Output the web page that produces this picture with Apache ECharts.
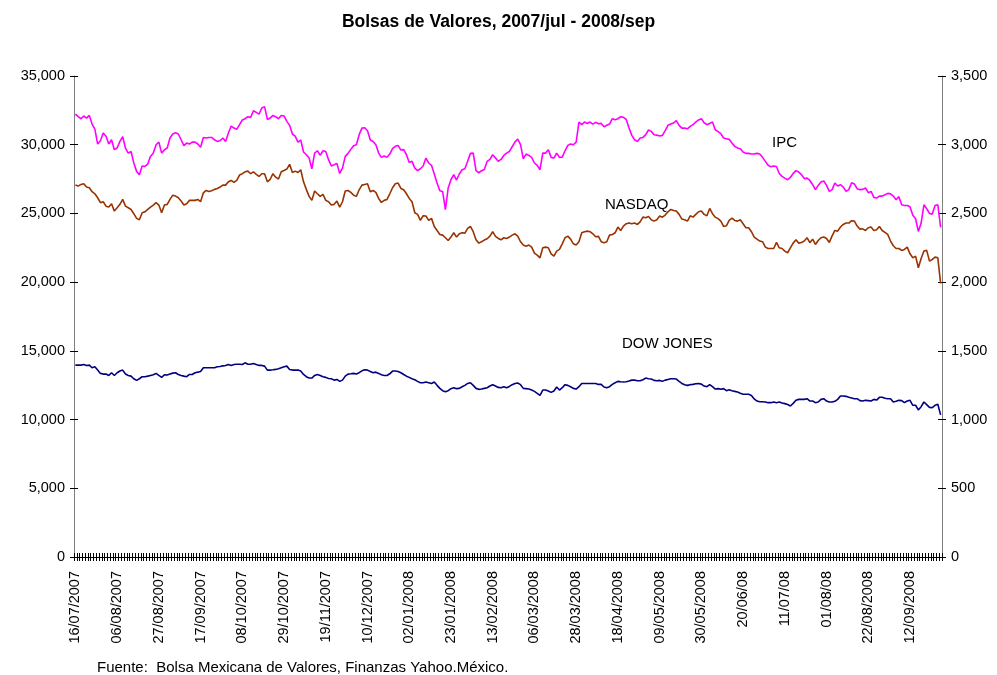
<!DOCTYPE html>
<html>
<head>
<meta charset="utf-8">
<title>Bolsas de Valores</title>
<script src="https://cdn.jsdelivr.net/npm/echarts@6/dist/echarts.min.js"></script>
<style>
  html, body { margin: 0; padding: 0; background: #fff; }
  #chart { width: 997px; height: 675px; }
</style>
</head>
<body>
<div id="chart"></div>
<script>
// dias de operacion: lunes a viernes desde 16/07/2007, sin estos feriados
var firstDay = [2007, 6, 16];
var holidays = ['25/12/2007', '01/01/2008', '18/02/2008', '21/03/2008'];

// etiquetas del eje X (una cada 15 dias de operacion)
var tickLabels = [
    '16/07/2007', '06/08/2007', '27/08/2007', '17/09/2007', '08/10/2007', '29/10/2007',
    '19/11/2007', '10/12/2007', '02/01/2008', '23/01/2008', '13/02/2008', '06/03/2008',
    '28/03/2008', '18/04/2008', '09/05/2008', '30/05/2008', '20/06/08', '11/07/08',
    '01/08/08', '22/08/2008', '12/09/2008'
];

// IPC (eje izquierdo)
var ipc = [
    32230, 32040, 31890, 32090, 31940, 32130, 31500, 31140, 30050, 30290,
    30850, 30610, 30050, 30360, 29640, 29760, 30240, 30580, 29760, 29390,
    29510, 28670, 28060, 27820, 28450, 28420, 28590, 29150, 29390, 30000,
    30190, 29390, 29640, 29760, 30490, 30780, 30870, 30780, 30360, 29930,
    30120, 30050, 30190, 30190, 30050, 29810, 30530, 30490, 30530, 30530,
    30360, 30240, 30290, 30490, 30240, 30850, 31360, 31210, 31120, 31460,
    31800, 31890, 32040, 31990, 32470, 32350, 32230, 32670, 32770, 31840,
    31940, 32130, 32040, 31890, 32130, 32090, 31700, 31410, 30780, 30630,
    30190, 30340, 29470, 29270, 29030, 28250, 29390, 29560, 29220, 29560,
    29510, 28910, 28450, 28540, 28640, 27910, 28300, 29150, 29370, 29660,
    29930, 30000, 30730, 31210, 31240, 31020, 30340, 30240, 30000, 29390,
    29080, 29180, 29080, 29320, 29710, 29880, 29950, 29610, 29640, 29270,
    28710, 28790, 28300, 28110, 28250, 28450, 29030, 28670, 28500, 27870,
    27210, 26650, 26600, 25270, 26850, 27450, 27820, 27430, 27870, 28180,
    28250, 28790, 29370, 29390, 28110, 27960, 28110, 28200, 28790, 28930,
    29270, 29030, 28790, 28930, 29220, 29390, 29510, 29850, 30190, 30410,
    30000, 28980, 29320, 29220, 29080, 28670, 28500, 28180, 29390, 29390,
    29640, 29080, 29030, 29390, 29080, 29100, 29560, 29950, 30050, 30000,
    30190, 31650, 31460, 31650, 31550, 31650, 31500, 31630, 31530, 31550,
    31310, 31410, 31500, 31890, 31820, 31890, 32040, 31990, 31840, 31210,
    30680, 30360, 30240, 30490, 30530, 30730, 31070, 30970, 30730, 30700,
    30630, 30680, 31020, 31410, 31500, 31580, 31750, 31410, 31210, 31210,
    31160, 31330, 31460, 31650, 31800, 31890, 31600, 31460, 31550, 31650,
    31090, 30950, 30800, 30490, 30440, 30390, 30120, 29880, 29760, 29710,
    29470, 29370, 29370, 29320, 29320, 29370, 29320, 29080, 28790, 28500,
    28400, 28450, 28420, 27910, 27700, 27570, 27450, 27620, 27910, 28110,
    28010, 27820, 27530, 27570, 27400, 27090, 26730, 27040, 27280, 27360,
    27040, 26600, 26730, 27210, 26990, 27090, 26920, 26600, 26730, 27230,
    27140, 26800, 26730, 26750, 26850, 26510, 26600, 26170, 26120, 26260,
    26260, 26360, 26460, 26430, 26260, 26000, 26220, 25630, 25580, 25580,
    25490, 24860, 24610, 23690, 24300, 25630, 25340, 25000, 24950, 25580,
    25630, 23980
];

// NASDAQ (eje derecho)
var nasdaq = [
    2706, 2699, 2711, 2716, 2692, 2687, 2658, 2643, 2614, 2578,
    2585, 2553, 2546, 2570, 2517, 2541, 2566, 2602, 2553, 2541,
    2529, 2498, 2464, 2454, 2505, 2512, 2529, 2546, 2561, 2578,
    2561, 2505, 2561, 2566, 2602, 2633, 2626, 2614, 2590, 2561,
    2570, 2595, 2595, 2595, 2602, 2585, 2650, 2667, 2660, 2665,
    2675, 2682, 2692, 2706, 2706, 2730, 2740, 2726, 2740, 2779,
    2789, 2803, 2808, 2789, 2803, 2784, 2769, 2789, 2789, 2730,
    2747, 2789, 2764, 2750, 2803, 2813, 2823, 2857, 2798, 2808,
    2798, 2818, 2730, 2675, 2624, 2595, 2663, 2643, 2624, 2638,
    2595, 2585, 2561, 2566, 2590, 2546, 2585, 2663, 2667, 2653,
    2633, 2624, 2672, 2706, 2711, 2716, 2658, 2667, 2653, 2609,
    2580, 2595, 2602, 2643, 2687, 2716, 2721, 2682, 2672, 2643,
    2609, 2585, 2505, 2493, 2449, 2483, 2481, 2449, 2464, 2405,
    2376, 2347, 2342, 2323, 2303, 2328, 2359, 2328, 2352, 2359,
    2357, 2391, 2405, 2367, 2308, 2284, 2294, 2306, 2316, 2335,
    2367, 2333, 2318, 2308, 2323, 2318, 2328, 2342, 2352, 2335,
    2294, 2270, 2262, 2270, 2255, 2211, 2197, 2177, 2250, 2255,
    2250, 2206, 2189, 2226, 2238, 2279, 2323, 2335, 2313, 2279,
    2270, 2294, 2359, 2367, 2371, 2367, 2352, 2330, 2333, 2294,
    2287, 2294, 2342, 2347, 2359, 2401, 2376, 2408, 2425, 2430,
    2425, 2430, 2420, 2439, 2473, 2468, 2478, 2454, 2444, 2454,
    2481, 2473, 2488, 2512, 2529, 2522, 2517, 2493, 2459, 2454,
    2444, 2483, 2473, 2493, 2512, 2517, 2493, 2483, 2536, 2498,
    2473, 2462, 2444, 2405, 2410, 2449, 2466, 2449, 2444, 2454,
    2425, 2396, 2396, 2367, 2328, 2313, 2299, 2294, 2255, 2245,
    2245, 2245, 2289, 2250, 2245, 2226, 2214, 2250, 2284, 2308,
    2284, 2289, 2299, 2323, 2287, 2313, 2274, 2303, 2323, 2328,
    2318, 2289, 2337, 2376, 2371, 2401, 2420, 2430, 2430, 2447,
    2444, 2408, 2386, 2388, 2376, 2396, 2401, 2376, 2381, 2405,
    2376, 2362, 2347, 2299, 2265, 2245, 2245, 2231, 2238, 2255,
    2206, 2177, 2189, 2105, 2172, 2226, 2231, 2153, 2165, 2182,
    2177, 1990
];

// DOW JONES (eje izquierdo)
var dowJones = [
    13960, 13960, 13960, 14010, 13940, 13960, 13770, 13840, 13600, 13360,
    13310, 13310, 13210, 13410, 13210, 13410, 13530, 13600, 13310, 13210,
    13160, 12970, 12850, 12970, 13120, 13120, 13160, 13210, 13260, 13360,
    13210, 13070, 13260, 13240, 13310, 13380, 13410, 13280, 13210, 13160,
    13120, 13280, 13280, 13410, 13450, 13500, 13770, 13770, 13770, 13770,
    13770, 13840, 13860, 13910, 13940, 14010, 13940, 14010, 14030, 14030,
    14010, 14130, 14030, 14030, 14080, 14010, 13940, 13940, 13890, 13600,
    13600, 13620, 13650, 13700, 13770, 13840, 13890, 13650, 13600, 13600,
    13600, 13530, 13280, 13120, 13020, 13020, 13210, 13280, 13210, 13120,
    13070, 12990, 12970, 12870, 12920, 12780, 12870, 13160, 13310, 13330,
    13360, 13310, 13410, 13550, 13620, 13600, 13500, 13410, 13450, 13360,
    13260, 13210, 13210, 13330, 13530, 13530, 13500, 13410, 13280, 13160,
    13070, 12970, 12900, 12780, 12680, 12680, 12730, 12680, 12630, 12730,
    12490, 12270, 12100, 12030, 12100, 12250, 12320, 12250, 12270, 12390,
    12490, 12630, 12680, 12490, 12270, 12200, 12220, 12270, 12320, 12440,
    12540, 12440, 12340, 12320, 12390, 12320, 12410, 12540, 12630, 12660,
    12540, 12270, 12250, 12220, 12150, 12050, 11910, 11760, 12150, 12150,
    12080, 11980, 12080, 12370, 12150, 12320, 12540, 12490, 12390, 12270,
    12220, 12390, 12630, 12630, 12630, 12630, 12630, 12630, 12560, 12560,
    12370, 12320, 12390, 12560, 12680, 12780, 12750, 12730, 12750, 12800,
    12870, 12870, 12830, 12830, 12900, 13020, 12970, 12950, 12850, 12830,
    12850, 12780, 12870, 12920, 12970, 12970, 12950, 12780, 12630, 12540,
    12490, 12540, 12560, 12610, 12630, 12580, 12440, 12390, 12540, 12390,
    12220, 12250, 12200, 12250, 12100, 12170, 12100, 12050, 12000, 11910,
    11840, 11840, 11840, 11760, 11500, 11350, 11300, 11300, 11280, 11230,
    11230, 11280, 11230, 11280, 11210, 11160, 11090, 10990, 11180, 11400,
    11470, 11470, 11470, 11520, 11350, 11350, 11230, 11280, 11470, 11520,
    11350, 11280, 11280, 11330, 11470, 11710, 11710, 11690, 11620, 11570,
    11520, 11520, 11380, 11350, 11400, 11380, 11350, 11470, 11420, 11620,
    11620, 11550, 11520, 11520, 11280, 11330, 11400, 11380, 11230, 11350,
    11400, 11040, 11040, 10700, 10940, 11280, 11090, 10890, 10870, 11040,
    11110, 10340
];

function pad(n) {
    return n < 10 ? '0' + n : '' + n;
}

// fechas de cada punto
var dates = [];
var day = new Date(Date.UTC(firstDay[0], firstDay[1], firstDay[2]));
while (dates.length < ipc.length) {
    var wd = day.getUTCDay();
    var s = pad(day.getUTCDate()) + '/' + pad(day.getUTCMonth() + 1) + '/' + day.getUTCFullYear();
    if (wd !== 0 && wd !== 6 && holidays.indexOf(s) < 0) {
        dates.push(s);
    }
    day.setUTCDate(day.getUTCDate() + 1);
}

var font = '"Liberation Sans", Arial, sans-serif';

function thousands(v) {
    return String(v).replace(/\B(?=(\d{3})+(?!\d))/g, ',');
}

// eje Y; los ticks cruzan la linea del eje, por eso cada eje va dos veces
function valueAxis(max, step, inside) {
    return {
        type: 'value',
        min: 0,
        max: max,
        interval: step,
        axisLine: { show: !inside, lineStyle: { color: '#808080', width: 1 } },
        axisTick: { show: true, inside: inside, length: 4, lineStyle: { color: '#000' } },
        axisLabel: {
            show: !inside,
            margin: 9,
            fontFamily: font,
            fontSize: 14.5,
            color: '#000',
            formatter: thousands
        },
        splitLine: { show: false }
    };
}

// eje X de categorias; tambien dos veces para que las marcas crucen el eje
function dateAxis(inside) {
    return {
        type: 'category',
        data: dates,
        position: 'bottom',
        boundaryGap: true,
        axisLine: { show: !inside, lineStyle: { color: '#000', width: 1 } },
        axisTick: {
            show: true,
            interval: 0,
            inside: inside,
            length: 4,
            lineStyle: { color: '#000', width: 1 }
        },
        axisLabel: {
            show: !inside,
            interval: 14,
            rotate: 90,
            margin: 14,
            fontFamily: font,
            fontSize: 14.5,
            color: '#000',
            formatter: function (value, index) {
                return tickLabels[Math.round(index / 15)];
            }
        },
        splitLine: { show: false }
    };
}

var leftAxis = valueAxis(35000, 5000, false);
var rightAxis = valueAxis(3500, 500, false);
var leftInner = valueAxis(35000, 5000, true);
var rightInner = valueAxis(3500, 500, true);
rightAxis.position = 'right';
rightInner.position = 'right';
leftInner.position = 'left';

var myChart = echarts.init(document.getElementById('chart'));
var option = {
    backgroundColor: '#fff',
    animation: false,
    title: {
        text: 'Bolsas de Valores, 2007/jul - 2008/sep',
        left: 'center',
        top: 8,
        textStyle: {
            fontFamily: font,
            fontSize: 17.5,
            fontWeight: 'bold',
            color: '#000'
        }
    },
    grid: {
        left: 74,
        right: 55,
        top: 76,
        bottom: 118
    },
    xAxis: [dateAxis(false), dateAxis(true)],
    yAxis: [leftAxis, rightAxis, leftInner, rightInner],
    series: [
        {
            name: 'IPC',
            type: 'line',
            yAxisIndex: 0,
            data: ipc,
            showSymbol: false,
            lineStyle: { color: '#FF00FF', width: 1.6 },
            itemStyle: { color: '#FF00FF' }
        },
        {
            name: 'NASDAQ',
            type: 'line',
            yAxisIndex: 1,
            data: nasdaq,
            showSymbol: false,
            lineStyle: { color: '#993300', width: 1.6 },
            itemStyle: { color: '#993300' }
        },
        {
            name: 'DOW JONES',
            type: 'line',
            yAxisIndex: 0,
            data: dowJones,
            showSymbol: false,
            lineStyle: { color: '#000080', width: 1.6 },
            itemStyle: { color: '#000080' }
        }
    ],
    graphic: [
        {
            type: 'text', left: 772, top: 135,
            style: { text: 'IPC', font: '15px ' + font, fill: '#000' }
        },
        {
            type: 'text', left: 605, top: 197,
            style: { text: 'NASDAQ', font: '15px ' + font, fill: '#000' }
        },
        {
            type: 'text', left: 622, top: 336,
            style: { text: 'DOW JONES', font: '15px ' + font, fill: '#000' }
        },
        {
            type: 'text', left: 97, top: 660,
            style: { text: 'Fuente:  Bolsa Mexicana de Valores, Finanzas Yahoo.México.', font: '15px ' + font, fill: '#000' }
        }
    ]
};
myChart.setOption(option);
</script>
</body>
</html>
